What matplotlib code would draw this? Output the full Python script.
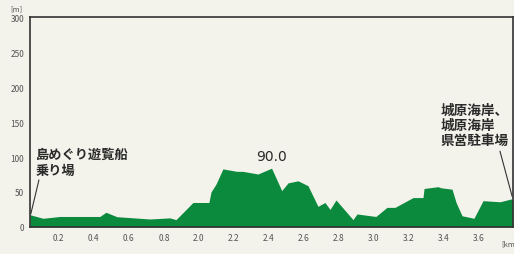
import matplotlib.pyplot as plt

plt.rcParams['font.family'] = ['Noto Sans CJK JP', 'DejaVu Sans']

# 距離 (目盛り位置基準) と標高 [m]
dist = [0.034, 0.109, 0.206, 0.434, 0.469, 0.531, 0.72, 0.834, 0.869, 0.966,
        1.057, 1.069, 1.097, 1.137, 1.217, 1.251, 1.337, 1.415, 1.473, 1.509,
        1.566, 1.623, 1.68, 1.72, 1.749, 1.783, 1.88, 1.903, 2.011, 2.074,
        2.12, 2.223, 2.28, 2.286, 2.366, 2.383, 2.446, 2.469, 2.503, 2.571,
        2.623, 2.72, 2.783, 2.794]
elev = [17.6, 12.4, 15, 15, 21, 14.7, 11.4, 13, 10.5, 35,
        35, 50, 61, 83, 79.5, 79.5, 75.7, 84, 52, 63,
        66, 59, 29.5, 35, 25, 38.6, 10.5, 18.6, 15, 28,
        28, 42, 42, 55, 57.6, 56, 54, 35, 16, 12.4,
        37.6, 36, 40, 38.6]

tick_pos = [0.2 * i for i in range(1, 14)]
tick_labels = ['0.2', '0.4', '0.6', '0.8', '2.0', '2.2', '2.4', '2.6', '2.8',
               '3.0', '3.2', '3.4', '3.6']
y_ticks = [0, 50, 100, 150, 200, 250, 300]

bg = '#f3f2eb'
fig = plt.figure(figsize=(5.14, 2.55), dpi=100, facecolor=bg)
ax = fig.add_axes([0.058, 0.106, 0.94, 0.823])
ax.set_facecolor(bg)

ax.fill_between(dist, elev, 0, color='#0b8a3e', linewidth=0)

ax.set_xlim(0.034, 2.794)
ax.set_ylim(0, 300)
ax.set_xticks(tick_pos)
ax.set_xticklabels(tick_labels)
ax.set_yticks(y_ticks)
ax.tick_params(length=0, labelsize=6, labelcolor='#555555', pad=4)
for s in ax.spines.values():
    s.set_color('#333333')
    s.set_linewidth(1.2)

# 単位
fig.text(0.02, 0.955, '[m]', fontsize=5.5, color='#555555')
fig.text(0.975, 0.035, '[km', fontsize=5.5, color='#555555')

# 最高点
ax.text(1.413, 91, '90.0', fontsize=10, color='#2a2a2a', ha='center',
        va='bottom', family='DejaVu Sans')

# 地点名
ax.text(0.069, 115, '島めぐり遊覧船\n乗り場', fontsize=9.5, fontweight='bold',
        color='#2a2a2a', ha='left', va='top', linespacing=1.25)
ax.plot([0.086, 0.04], [67, 19], color='#333333', lw=0.8)

ax.text(2.383, 178, '城原海岸、\n城原海岸\n県営駐車場', fontsize=9.8, fontweight='bold',
        color='#2a2a2a', ha='left', va='top', linespacing=1.12)
ax.plot([2.72, 2.789], [108, 44], color='#333333', lw=0.8, clip_on=False)

fig.savefig('out.png', dpi=100, facecolor=bg)
